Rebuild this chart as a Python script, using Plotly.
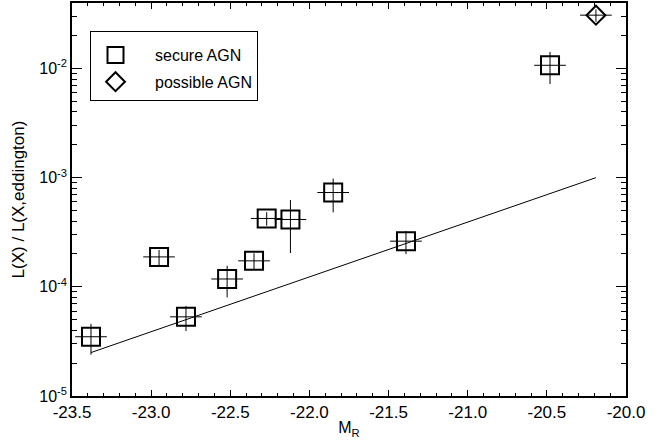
import plotly.graph_objects as go

# secure AGN
secure_x = [-23.38, -22.95, -22.78, -22.52, -22.35, -22.27, -22.12, -21.85, -21.39, -20.48]
secure_y = [3.49e-5, 1.88e-4, 5.31e-5, 1.18e-4, 1.73e-4, 4.23e-4, 4.14e-4, 7.31e-4, 2.62e-4, 1.07e-2]
secure_xerr = [0.1, 0.1, 0.1, 0.1, 0.1, 0.1, 0.1, 0.1, 0.1, 0.1]
secure_yerr = [1.1e-5, 0.3e-4, 1.37e-5, 0.38e-4, 0.3e-4, 0.6e-4, 2.1e-4, 2.5e-4, 0.62e-4, 3.5e-3]

# possible AGN
possible_x = [-20.19]
possible_y = [0.0308]
possible_xerr = [0.1]
possible_yerr = [0.004]

# trend line
line_x = [-23.38, -20.19]
line_y = [2.5e-5, 1.0e-3]

# axis ticks
x_ticks = [-23.5, -23.0, -22.5, -22.0, -21.5, -21.0, -20.5, -20.0]
x_ticklabels = ["-23.5", "-23.0", "-22.5", "-22.0", "-21.5", "-21.0", "-20.5", "-20.0"]
y_ticks = [1e-5, 1e-4, 1e-3, 1e-2]
y_ticklabels = ["10<sup>-5</sup>", "10<sup>-4</sup>", "10<sup>-3</sup>", "10<sup>-2</sup>"]

FONT = "Liberation Sans, Arial, Helvetica, sans-serif"

fig = go.Figure()

fig.add_trace(go.Scatter(
    x=line_x, y=line_y, mode="lines",
    line=dict(color="black", width=1),
    showlegend=False, hoverinfo="skip",
))

fig.add_trace(go.Scatter(
    x=secure_x, y=secure_y, mode="markers", name="secure AGN",
    legendgroup="a",
    marker=dict(symbol="square-open", size=18, color="black", line=dict(width=2, color="black")),
    error_x=dict(type="data", array=secure_xerr, color="black", thickness=1, width=0),
    error_y=dict(type="data", array=secure_yerr, color="black", thickness=1, width=0),
))

fig.add_trace(go.Scatter(
    x=possible_x, y=possible_y, mode="markers", name="possible AGN",
    legendgroup="b",
    marker=dict(symbol="diamond-open", size=14.5, color="black", line=dict(width=2, color="black")),
    error_x=dict(type="data", array=possible_xerr, color="black", thickness=1, width=0),
    error_y=dict(type="data", array=possible_yerr, color="black", thickness=1, width=0),
))

fig.update_layout(
    width=661, height=445,
    margin=dict(l=72, r=35, t=3, b=49, autoexpand=False),
    paper_bgcolor="white", plot_bgcolor="white",
    font=dict(family=FONT, size=16, color="black"),
    showlegend=True,
    legend=dict(
        x=0.0325, y=0.93, xanchor="left", yanchor="top",
        bordercolor="black", borderwidth=1, bgcolor="white",
        itemwidth=69, indentation=-15, tracegroupgap=3,
        title=dict(text=" ", font=dict(size=5)),
        font=dict(family=FONT, size=16, color="black"),
    ),
)

fig.update_xaxes(
    range=[-23.5, -20.0],
    tickvals=x_ticks, ticktext=x_ticklabels,
    tickfont=dict(family=FONT, size=17, color="black"),
    ticks="inside", ticklen=6, tickwidth=1, tickcolor="black",
    minor=dict(dtick=0.1, ticks="inside", ticklen=3, tickwidth=1, tickcolor="black", showgrid=False),
    showline=True, linecolor="black", linewidth=1.5, mirror="ticks",
    showgrid=False, zeroline=False,
    title=dict(text="M<sub>R</sub>", standoff=1, font=dict(family=FONT, size=16)),
)

fig.update_yaxes(
    type="log", range=[-5, -1.4],
    tickvals=y_ticks, ticktext=y_ticklabels,
    tickfont=dict(family=FONT, size=16, color="black"),
    ticks="inside", ticklen=10, tickwidth=1, tickcolor="black",
    minor=dict(dtick="D1", ticks="inside", ticklen=5, tickwidth=1, tickcolor="black", showgrid=False),
    showline=True, linecolor="black", linewidth=1.5, mirror="ticks",
    showgrid=False, zeroline=False,
    title=dict(text="L(X) / L(X,eddington)", standoff=10, font=dict(family=FONT, size=17)),
)

fig.write_html("out.html", config={"displayModeBar": False},
               post_script="document.body.style.margin='0';")
